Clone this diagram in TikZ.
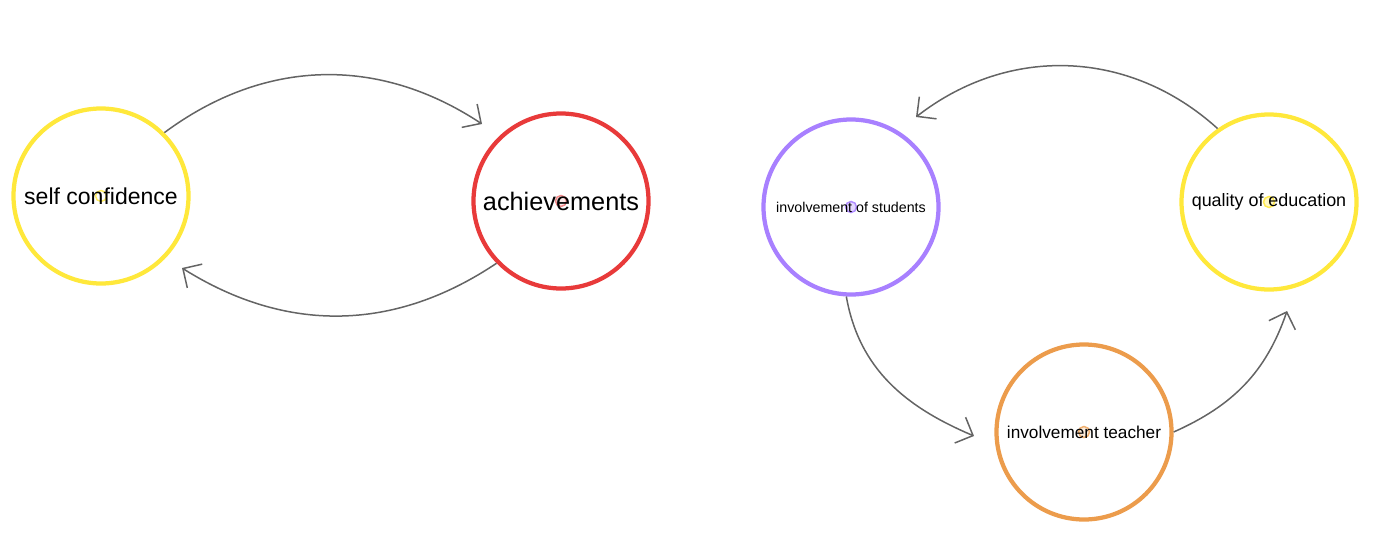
\documentclass[tikz,border=0pt]{standalone}
\usepackage{fontspec}
\setmainfont{Liberation Sans}
\usepackage{tikz}
\usetikzlibrary{positioning,arrows.meta,backgrounds}
\definecolor{sunyellow}{RGB}{255,232,59}
\definecolor{alertred}{RGB}{232,58,58}
\definecolor{lilac}{RGB}{168,128,255}
\definecolor{amber}{RGB}{236,156,76}
\definecolor{linkgray}{RGB}{100,100,100}
\begin{document}
\begin{tikzpicture}[
    bubble/.style={circle, line width=0.085cm, inner sep=0pt, minimum size=3.5cm, align=center},
    dot/.style={circle, line width=0.03cm, inner sep=0pt, minimum size=0.22cm},
    link/.style={-{Straight Barb[length=2.8mm,width=5.6mm]}, line width=0.03cm, color=linkgray}
]
\useasboundingbox (0,0) rectangle (27.78,-10.82);

% Left loop
\node[bubble, draw=sunyellow, font=\fontsize{13.1pt}{15pt}\selectfont] (conf) at (2.02,-3.92) {self confidence};
\node[bubble, draw=alertred, font=\fontsize{14.4pt}{17pt}\selectfont] (ach) at (11.22,-4.02) {achievements};

% Right loop
\node[bubble, draw=lilac, font=\fontsize{8.1pt}{10pt}\selectfont] (stud) at (17.02,-4.14) {involvement of students};
\node[bubble, draw=sunyellow, font=\fontsize{10.2pt}{12pt}\selectfont] (qual) at (25.38,-4.04) {quality of education};
\node[bubble, draw=amber, font=\fontsize{9.8pt}{12pt}\selectfont] (teach) at (21.68,-8.64) {involvement teacher};

% Centre marks, behind the labels
\begin{scope}[on background layer]
\node[dot, draw=sunyellow!80] (confdot) at (conf) {};
\node[dot, draw=alertred!60, fill=alertred!10] (achdot) at (ach) {};
\node[dot, draw=lilac!90, fill=lilac!30] (studdot) at (stud) {};
\node[dot, draw=sunyellow!90, fill=sunyellow!30] (qualdot) at (qual) {};
\node[dot, draw=amber!80, fill=amber!20] (teachdot) at (teach) {};
\end{scope}

% Arrow ends
\coordinate (achin) at (9.64,-2.48);
\coordinate (confin) at (3.64,-5.36);
\coordinate (studin) at (18.32,-2.34);
\coordinate (teachin) at (19.48,-8.72);
\coordinate (qualin) at (25.74,-6.22);

% Arrows
\draw[link] (conf.45) to[bend left=35] (achin);
\draw[link] (ach.224) to[bend left=33] (confin);
\draw[link] (qual.125) to[bend right=40] (studin);
\draw[link] (stud.267) to[out=-80, in=157] (teachin);
\draw[link] (teach.east) to[out=24, in=-109] (qualin);
\end{tikzpicture}
\end{document}
